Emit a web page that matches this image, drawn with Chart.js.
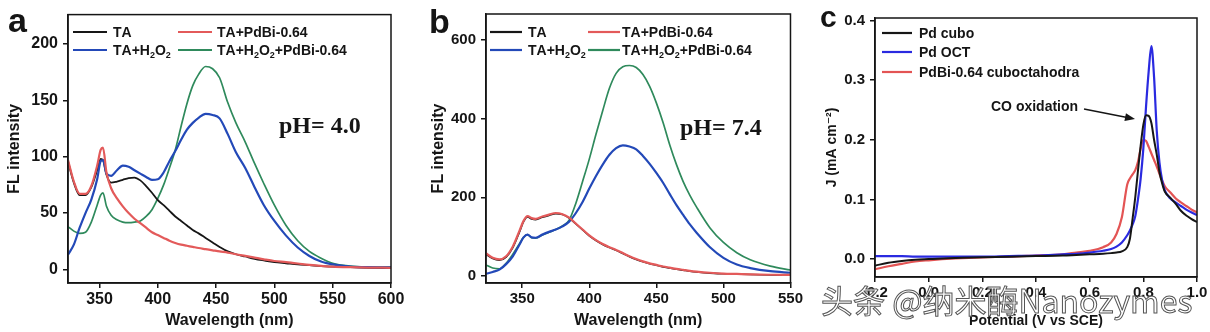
<!DOCTYPE html>
<html>
<head>
<meta charset="utf-8">
<script src="https://cdn.jsdelivr.net/npm/chart.js@4.4.1/dist/chart.umd.min.js"></script>
<style>
html, body { margin: 0; padding: 0; background: #fff; }
#wrap { position: relative; width: 1210px; height: 332px; overflow: hidden; background: #fff; }
canvas { position: absolute; top: 0; }
#mark {
  position: absolute; left: 821px; top: 280px;
  font-family: "Noto Sans CJK SC", sans-serif; font-size: 32px; line-height: 38px;
  color: rgba(255,255,255,0.85); -webkit-text-stroke: 1px #555; white-space: nowrap;
}
</style>
</head>
<body>
<div id="wrap">
  <canvas id="ca" width="415" height="332" style="left:0"></canvas>
  <canvas id="cb" width="390" height="332" style="left:415px"></canvas>
  <canvas id="cc" width="398" height="332" style="left:812px"></canvas>
  <div id="mark">头条 @纳米酶Nanozymes</div>
</div>
<script>
// panel a : pH 4.0
const waveA = [323,328,333,338,343,348,351,353,356,360,365,370,375,380,385,390,395,400,405,410,415,420,425,430,435,441,447,453,460,467,475,483,491,500,510,520,530,540,550,565,580,600];
const taA = [96,77,66,66,73,88,98,97,84,77,78,79.5,81,81.5,79,74,68,61.5,57,52,47,43,39,35,32,28,24,20,16,13.5,11.5,9.5,8,6.5,5.5,4.5,3.8,3,2.5,2,1.5,1.2];
const pdbiA = [97,78,67,67,74,92,106,108,86,72,63,56,50,45,41,37,33,30.5,28,25.5,23.5,22,21,20,19,18,17,16,15,13.5,12,10.5,9,7.5,6.5,5.3,4,3.2,2.5,2,1.7,1.5];
const h2o2A = [13,22,37,50,62,80,96,97,85,83,88,92,91,88,85,82,79.5,80,86,96,105,115,124,130,134.5,138,137,134,120,104,90,73,57,43,30,19.5,12,7,4.5,2.5,2,1.8];
const h2o2PdbiA = [38,34,32,33,42,57,66,68,56,48,44,42,41.5,42,43,47,53,63,75,90,106,127,147,163,173,180,178,170,148,130,113,94,76,57,39,25.5,16,10,5.5,3,2.2,2];
const ticksAX = [350,400,450,500,550,600];
const ticksAY = [0,50,100,150,200];

// panel b : pH 7.4
const waveB = [323,328,333,338,343,348,351,354,357,360,365,370,375,380,385,390,395,400,405,410,415,420,425,430,435,440,445,450,455,460,465,470,475,480,490,500,510,520,535,550];
const taB = [55,44,40,48,72,112,138,150,145,143,149,154,158,156,147,132,117,102,90,80,72,65,57,49,42,36,31,27,23,20,17,14.5,12,10,7,5.5,4.5,3.5,2.5,2];
const pdbiB = [58,46,42,50,75,115,140,152,147,145,151,156,160,157,148,133,118,103,91,81,73,66,58,50,43,37,32,28,24,21,18,15.5,13,11,8,6,5,4,3,2.5];
const h2o2B = [5,10,16,30,50,80,98,105,98,97,105,112,118,126,138,160,188,222,254,283,308,325,332,329,322,305,285,262,237,208,180,155,131,110,73,46,29,20,12,8];
const h2o2PdbiB = [28,20,18,32,55,82,98,105,97,96,104,111,118,127,142,185,240,297,360,420,477,515,532,535,530,512,482,440,390,333,283,240,205,175,122,85,59,41,25,15];
const ticksBX = [350,400,450,500,550];
const ticksBY = [0,200,400,600];

// panel c : CO stripping
const potentialC = [-0.2,-0.15,-0.1,-0.05,0,0.1,0.2,0.3,0.4,0.5,0.55,0.6,0.65,0.68,0.7,0.72,0.74,0.75,0.76,0.77,0.78,0.79,0.8,0.81,0.82,0.83,0.84,0.85,0.86,0.87,0.88,0.9,0.92,0.94,0.96,0.98,1.0];
const cuboC = [-0.011,-0.006,-0.003,-0.001,0,0.002,0.003,0.004,0.005,0.006,0.007,0.008,0.009,0.010,0.011,0.013,0.02,0.034,0.068,0.104,0.148,0.19,0.225,0.241,0.24,0.228,0.2,0.175,0.146,0.127,0.113,0.103,0.093,0.081,0.073,0.067,0.062];
const octC = [0.005,0.005,0.005,0.004,0.004,0.004,0.004,0.005,0.006,0.008,0.009,0.011,0.014,0.017,0.021,0.028,0.04,0.048,0.058,0.072,0.1,0.135,0.185,0.255,0.315,0.357,0.305,0.215,0.162,0.132,0.115,0.102,0.095,0.089,0.083,0.078,0.074];
const cuboctC = [-0.017,-0.012,-0.008,-0.004,-0.002,0.001,0.003,0.004,0.006,0.008,0.011,0.014,0.02,0.028,0.042,0.07,0.125,0.135,0.142,0.149,0.163,0.185,0.2,0.198,0.188,0.177,0.166,0.155,0.143,0.132,0.122,0.112,0.102,0.095,0.089,0.083,0.078];
const ticksCX = [-0.2,0,0.2,0.4,0.6,0.8,1.0];
const ticksCY = [0,0.1,0.2,0.3,0.4];

const labelsFL = ['TA', 'TA+PdBi-0.64', 'TA+H_2O_2', 'TA+H_2O_2+PdBi-0.64'];
const labelsC = ['Pd cubo', 'Pd OCT', 'PdBi-0.64 cuboctahodra'];

const SANS = '"Liberation Sans", Arial, "DejaVu Sans", sans-serif';
const SERIF = '"Liberation Serif", "Times New Roman", serif';
const INK = '#151515';

const BLACK = '#161616', RED = '#e35a5a', BLUE = '#2349b8', GREEN = '#2f8a5c';
const BLUE_C = '#2a2ae0', RED_C = '#e35454';

// "_x" -> subscript, "^x" -> superscript
function drawRich(ctx, s, x, y, size) {
  let cx = x;
  for (let i = 0; i < s.length; i++) {
    let ch = s[i], dy = 0, sz = size;
    if (ch === '_' || ch === '^') {
      dy = ch === '_' ? size * 0.3 : -size * 0.4;
      sz = Math.round(size * 0.65);
      ch = s[++i];
    }
    ctx.font = 'bold ' + sz + 'px ' + SANS;
    ctx.fillText(ch, cx, y + dy);
    cx += ctx.measureText(ch).width;
  }
}

const decor = {
  id: 'decor',
  afterDraw(chart, args, o) {
    const ctx = chart.ctx, a = chart.chartArea;
    ctx.save();
    ctx.strokeStyle = INK;
    ctx.lineWidth = 1.5;
    ctx.strokeRect(a.left, a.top, a.right - a.left, a.bottom - a.top);

    ctx.fillStyle = INK;
    ctx.textBaseline = 'alphabetic';
    ctx.font = 'bold ' + o.letter.size + 'px ' + SANS;
    ctx.fillText(o.letter.text, o.letter.x, o.letter.y);

    ctx.textBaseline = 'middle';
    o.legend.forEach(it => {
      const ds = chart.data.datasets[it.ds];
      ctx.strokeStyle = ds.borderColor;
      ctx.lineWidth = 2.2;
      ctx.beginPath();
      ctx.moveTo(it.x, it.y);
      ctx.lineTo(it.x + it.len, it.y);
      ctx.stroke();
      ctx.fillStyle = INK;
      drawRich(ctx, ds.label, it.tx, it.y + 1, o.legendSize);
    });

    o.notes.forEach(n => {
      ctx.fillStyle = INK;
      ctx.textBaseline = 'alphabetic';
      ctx.font = n.font;
      ctx.fillText(n.text, n.x, n.y);
    });

    if (o.arrow) {
      const [x1, y1, x2, y2] = o.arrow;
      const ang = Math.atan2(y2 - y1, x2 - x1);
      ctx.strokeStyle = INK;
      ctx.fillStyle = INK;
      ctx.lineWidth = 1.4;
      ctx.beginPath();
      ctx.moveTo(x1, y1);
      ctx.lineTo(x2 - 8 * Math.cos(ang), y2 - 8 * Math.sin(ang));
      ctx.stroke();
      ctx.beginPath();
      ctx.moveTo(x2, y2);
      ctx.lineTo(x2 - 10 * Math.cos(ang) + 4 * Math.sin(ang), y2 - 10 * Math.sin(ang) - 4 * Math.cos(ang));
      ctx.lineTo(x2 - 10 * Math.cos(ang) - 4 * Math.sin(ang), y2 - 10 * Math.sin(ang) + 4 * Math.cos(ang));
      ctx.closePath();
      ctx.fill();
    }
    ctx.restore();
  }
};

function series(label, xs, ys, color, width) {
  return {
    label,
    data: xs.map((x, i) => ({ x, y: ys[i] })),
    borderColor: color,
    borderWidth: width,
    pointRadius: 0,
    fill: false,
    cubicInterpolationMode: 'monotone'
  };
}

function panel(id, p) {
  const tickFont = { family: SANS, size: p.tickSize, weight: 'bold' };
  const titleFont = { family: SANS, size: p.titleSize, weight: 'bold' };
  const grid = { display: true, drawOnChartArea: false, drawTicks: true, tickLength: 5, color: INK, lineWidth: 1.5 };
  return new Chart(document.getElementById(id), {
    type: 'line',
    data: { datasets: p.datasets },
    options: {
      responsive: false,
      animation: false,
      devicePixelRatio: 1,
      layout: { padding: { top: p.top, right: p.right, left: 0, bottom: 0 } },
      plugins: { legend: { display: false }, tooltip: { enabled: false }, decor: p.decor },
      scales: {
        x: {
          type: 'linear', min: p.xmin, max: p.xmax,
          afterBuildTicks: s => { s.ticks = p.xticks.map(v => ({ value: v })); },
          afterFit: s => { s.height = p.xh; },
          ticks: { font: tickFont, color: INK, padding: 2, maxRotation: 0, callback: p.fmt },
          grid, border: { display: true, color: INK, width: 1.5 },
          title: { display: true, text: p.xtitle, font: titleFont, color: INK, padding: { top: 0, bottom: 2 } }
        },
        y: {
          type: 'linear', min: p.ymin, max: p.ymax,
          afterBuildTicks: s => { s.ticks = p.yticks.map(v => ({ value: v })); },
          afterFit: s => { s.width = p.yw; },
          ticks: { font: tickFont, color: INK, padding: 5, callback: p.fmt },
          grid, border: { display: true, color: INK, width: 1.5 },
          title: { display: true, text: p.ytitle, font: titleFont, color: INK, padding: { top: p.ytitlePad, bottom: 0 } }
        }
      }
    },
    plugins: [decor]
  });
}

const intFmt = v => String(v);
const oneDec = v => v.toFixed(1);

panel('ca', {
  datasets: [
    series(labelsFL[1], waveA, pdbiA, RED, 2.2),
    series(labelsFL[2], waveA, h2o2A, BLUE, 2.2),
    series(labelsFL[0], waveA, taA, BLACK, 1.8),
    series(labelsFL[3], waveA, h2o2PdbiA, GREEN, 1.7)
  ],
  top: 13, right: 24, xh: 49, yw: 68,
  xmin: 323, xmax: 600, ymin: -12, ymax: 226,
  xticks: ticksAX, yticks: ticksAY, fmt: intFmt,
  tickSize: 16, titleSize: 16, ytitlePad: 5,
  xtitle: 'Wavelength (nm)', ytitle: 'FL intensity',
  decor: {
    letter: { text: 'a', x: 8, y: 32, size: 34 },
    legendSize: 14,
    legend: [
      { ds: 2, x: 73, len: 34, tx: 113, y: 32 },
      { ds: 0, x: 178, len: 34, tx: 217, y: 32 },
      { ds: 1, x: 73, len: 34, tx: 113, y: 50 },
      { ds: 3, x: 178, len: 34, tx: 217, y: 50 }
    ],
    notes: [{ text: 'pH= 4.0', x: 279, y: 133, font: 'bold 24px ' + SERIF }]
  }
});

panel('cb', {
  datasets: [
    series(labelsFL[1], waveB, pdbiB, RED, 2.2),
    series(labelsFL[0], waveB, taB, BLACK, 1.6),
    series(labelsFL[2], waveB, h2o2B, BLUE, 2.2),
    series(labelsFL[3], waveB, h2o2PdbiB, GREEN, 1.7)
  ],
  top: 13, right: 14, xh: 49, yw: 71,
  xmin: 323, xmax: 550, ymin: -18, ymax: 666,
  xticks: ticksBX, yticks: ticksBY, fmt: intFmt,
  tickSize: 15, titleSize: 16, ytitlePad: 14,
  xtitle: 'Wavelength (nm)', ytitle: 'FL intensity',
  decor: {
    letter: { text: 'b', x: 14, y: 33, size: 34 },
    legendSize: 14,
    legend: [
      { ds: 1, x: 75, len: 32, tx: 113, y: 32 },
      { ds: 0, x: 173, len: 32, tx: 207, y: 32 },
      { ds: 2, x: 75, len: 32, tx: 113, y: 50 },
      { ds: 3, x: 173, len: 32, tx: 207, y: 50 }
    ],
    notes: [{ text: 'pH= 7.4', x: 265, y: 135, font: 'bold 24px ' + SERIF }]
  }
});

panel('cc', {
  datasets: [
    series(labelsC[0], potentialC, cuboC, BLACK, 2),
    series(labelsC[1], potentialC, octC, BLUE_C, 2.2),
    series(labelsC[2], potentialC, cuboctC, RED_C, 2.2)
  ],
  top: 18, right: 13, xh: 55, yw: 63,
  xmin: -0.2, xmax: 1.0, ymin: -0.03, ymax: 0.404,
  xticks: ticksCX, yticks: ticksCY, fmt: oneDec,
  tickSize: 15, titleSize: 14, ytitlePad: 12,
  xtitle: 'Potential (V vs SCE)', ytitle: 'J (mA cm\u207B\u00B2)',
  decor: {
    letter: { text: 'c', x: 8, y: 27, size: 30 },
    legendSize: 14,
    legend: [
      { ds: 0, x: 70, len: 30, tx: 107, y: 33 },
      { ds: 1, x: 70, len: 30, tx: 107, y: 52 },
      { ds: 2, x: 70, len: 30, tx: 107, y: 72 }
    ],
    notes: [{ text: 'CO oxidation', x: 179, y: 111, font: 'bold 14px ' + SANS }],
    arrow: [272, 109, 323, 119]
  }
});
</script>
</body>
</html>
